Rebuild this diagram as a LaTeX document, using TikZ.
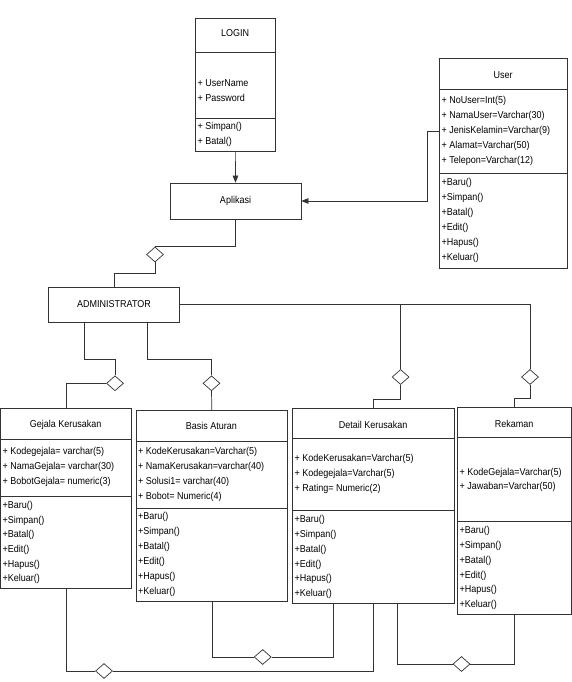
\documentclass[tikz,border=0pt]{standalone}
\usepackage{fontspec}
\setmainfont{Liberation Sans}[FakeStretch=0.9]
\usetikzlibrary{shapes.geometric,arrows.meta}
\begin{document}
\begin{tikzpicture}[x=1pt,y=-1pt,
  ln/.style={draw=black!80, line width=0.7pt},
  box/.style={ln, fill=white, rectangle, inner sep=0, anchor=north west},
  cbox/.style={ln, fill=white, rectangle, inner sep=0, font=\fontsize{10}{12}\selectfont},
  lbl/.style={anchor=west, inner sep=0, font=\fontsize{10}{12}\selectfont, text height=7.5pt, text depth=2pt},
  ttl/.style={inner sep=0, font=\fontsize{10}{12}\selectfont, text height=7.5pt, text depth=2pt},
  agg/.style={ln, fill=white, diamond, inner sep=0, minimum width=17pt, minimum height=15pt},
  arr/.style={ln, -{Triangle[length=7pt,width=5.5pt]}}]
\useasboundingbox (0,0) rectangle (572,682);

% ---------- LOGIN ----------
\node[box, minimum width=80pt, minimum height=133pt] (login) at (195,18) {};
\draw[ln] (195,52) -- (275,52);
\draw[ln] (195,118) -- (275,118);
\node[ttl] (logint) at (235,34) {LOGIN};
\node[lbl] (la1) at (197.5,84) {+ UserName};
\node[lbl] (la2) at (197.5,99) {+ Password};
\node[lbl] (lm1) at (197.5,127) {+ Simpan()};
\node[lbl] (lm2) at (197.5,142) {+ Batal()};

% ---------- User ----------
\node[box, minimum width=128pt, minimum height=210pt] (user) at (439,58) {};
\draw[ln] (439,89) -- (567,89);
\draw[ln] (439,173) -- (567,173);
\node[ttl] (usert) at (503,76) {User};
\foreach \t [count=\i] in {+ NoUser=Int(5), + NamaUser=Varchar(30), + JenisKelamin=Varchar(9), + Alamat=Varchar(50), + Telepon=Varchar(12)}
  \node[lbl] (ua\i) at (441.5,{101+15*(\i-1)}) {\t};
\foreach \t [count=\i] in {+Baru(), +Simpan(), +Batal(), +Edit(), +Hapus(), +Keluar()}
  \node[lbl] (um\i) at (441.5,{183+15*(\i-1)}) {\t};

% ---------- Aplikasi / Administrator ----------
\node[cbox, minimum width=131pt, minimum height=36pt] (apl) at (235.5,201) {Aplikasi};
\node[cbox, minimum width=131pt, minimum height=35pt] (adm) at (114,304.5) {ADMINISTRATOR};

% ---------- Gejala Kerusakan ----------
\node[box, minimum width=130.2pt, minimum height=180pt] (gej) at (0.5,408) {};
\draw[ln] (0.5,439) -- (130.7,439);
\draw[ln] (0.5,496) -- (130.7,496);
\node[ttl] (gejt) at (65.6,425) {Gejala Kerusakan};
\foreach \t [count=\i] in {+ Kodegejala= varchar(5), + NamaGejala= varchar(30), + BobotGejala= numeric(3)}
  \node[lbl] (ga\i) at (2.5,{452+15*(\i-1)}) {\t};
\foreach \t [count=\i] in {+Baru(), +Simpan(), +Batal(), +Edit(), +Hapus(), +Keluar()}
  \node[lbl] (gm\i) at (2.5,{506+14.6*(\i-1)}) {\t};

% ---------- Basis Aturan ----------
\node[box, minimum width=151.6pt, minimum height=191pt] (bas) at (135.7,410) {};
\draw[ln] (135.7,441.7) -- (287.3,441.7);
\draw[ln] (135.7,508.3) -- (287.3,508.3);
\node[ttl] (bast) at (211.5,426.7) {Basis Aturan};
\foreach \t [count=\i] in {+ KodeKerusakan=Varchar(5), + NamaKerusakan=varchar(40), + Solusi1= varchar(40), + Bobot= Numeric(4)}
  \node[lbl] (ba\i) at (138,{451.7+15*(\i-1)}) {\t};
\foreach \t [count=\i] in {+Baru(), +Simpan(), +Batal(), +Edit(), +Hapus(), +Keluar()}
  \node[lbl] (bm\i) at (138,{517+14.9*(\i-1)}) {\t};

% ---------- Detail Kerusakan ----------
\node[box, minimum width=161.7pt, minimum height=195pt] (det) at (292.3,408.3) {};
\draw[ln] (292.3,438.3) -- (454,438.3);
\draw[ln] (292.3,510) -- (454,510);
\node[ttl] (dett) at (373.15,426) {Detail Kerusakan};
\foreach \t [count=\i] in {+ KodeKerusakan=Varchar(5), + Kodegejala=Varchar(5), + Rating= Numeric(2)}
  \node[lbl] (da\i) at (294.5,{459+15.1*(\i-1)}) {\t};
\foreach \t [count=\i] in {+Baru(), +Simpan(), +Batal(), +Edit(), +Hapus(), +Keluar()}
  \node[lbl] (dm\i) at (294.5,{520+14.8*(\i-1)}) {\t};

% ---------- Rekaman ----------
\node[box, minimum width=113.7pt, minimum height=207.6pt] (rek) at (457.3,406.7) {};
\draw[ln] (457.3,437.3) -- (571,437.3);
\draw[ln] (457.3,521.7) -- (571,521.7);
\node[ttl] (rekt) at (514.15,425) {Rekaman};
\foreach \t [count=\i] in {+ KodeGejala=Varchar(5), + Jawaban=Varchar(50)}
  \node[lbl] (ra\i) at (459.5,{472.3+14.7*(\i-1)}) {\t};
\foreach \t [count=\i] in {+Baru(), +Simpan(), +Batal(), +Edit(), +Hapus(), +Keluar()}
  \node[lbl] (rm\i) at (459.5,{530.7+14.86*(\i-1)}) {\t};

% ---------- aggregation diamonds ----------
\node[agg] (d1) at (155,254.5) {};
\node[agg] (d2) at (400.6,377) {};
\node[agg] (d3) at (530,377) {};
\node[agg] (d4) at (115,383.3) {};
\node[agg] (d5) at (211.5,383.3) {};
\node[agg] (d6) at (104,671) {};
\node[agg] (d7) at (262.7,657) {};
\node[agg] (d8) at (461.5,664) {};

% ---------- helper coordinates ----------
\coordinate (uj) at (439,131);
\coordinate (a1) at (84,322);
\coordinate (a2) at (147.4,322);
\coordinate (b2) at (333.8,603.3);
\coordinate (b3) at (397.7,603.3);

% ---------- connectors ----------
\draw[arr] (login.south) -- (apl.north);
\draw[arr] (uj) -- ++(-12,0) |- (apl.east);
\draw[ln] (apl.south) |- (d1.north);
\draw[ln] (d1.south) -- ++(0,11) -| (adm.north);
\draw[ln] (adm.east) -| (d3.north);
\draw[ln] (d2.north) -- (d2.north |- adm.east);
\draw[ln] (d2.south) -- ++(0,14.5) -| (det.north);
\draw[ln] (d3.south) -- ++(0,13.5) -| (rek.north);
\draw[ln] (a1) -- ++(0,37) -| (d4.north);
\draw[ln] (d4.west) -| (gej.north);
\draw[ln] (a2) -- ++(0,37) -| (d5.north);
\draw[ln] (d5.south) -- (bas.north);
\draw[ln] (gej.south) |- (d6.west);
\draw[ln] (d6.east) -| (det.south);
\draw[ln] (bas.south) |- (d7.west);
\draw[ln] (d7.east) -| (b2);
\draw[ln] (b3) |- (d8.west);
\draw[ln] (d8.east) -| (rek.south);
\end{tikzpicture}
\end{document}
